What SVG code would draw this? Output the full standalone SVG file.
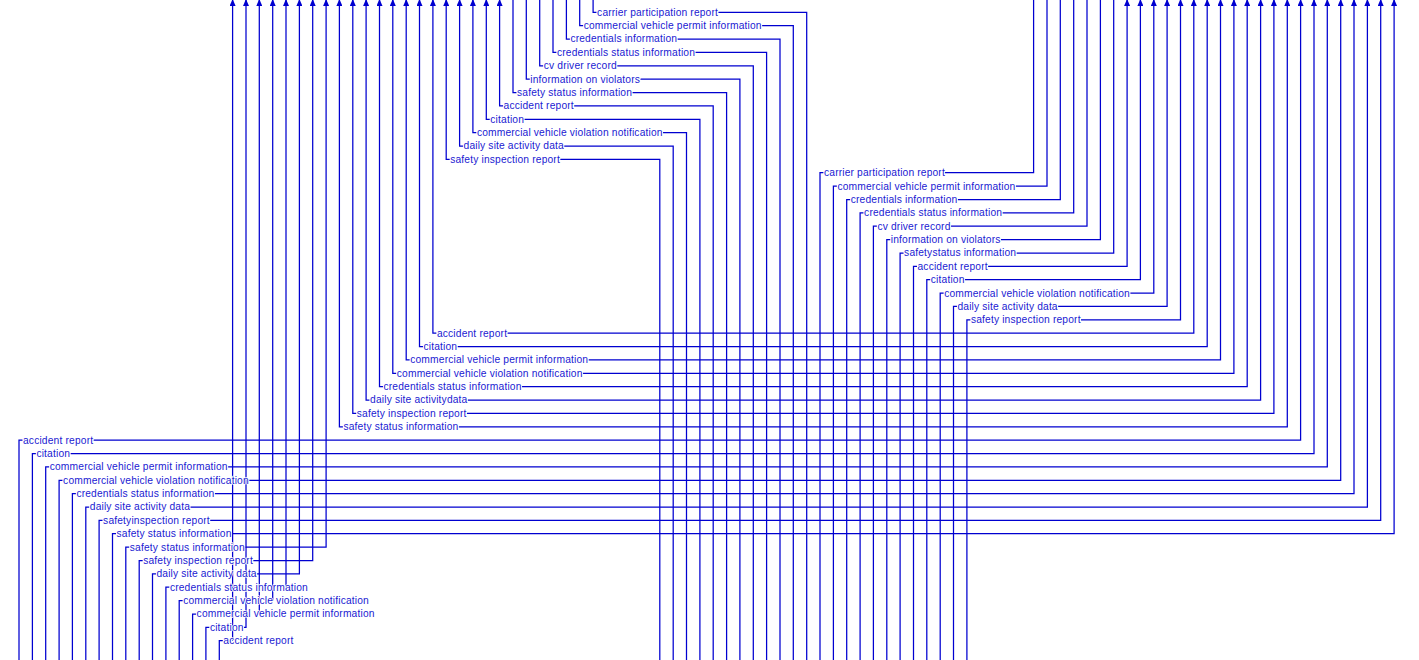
<svg xmlns="http://www.w3.org/2000/svg" width="1419" height="660" viewBox="0 0 1419 660">
<style>
.c{fill:none;stroke:#0000D0;stroke-width:1.25}
.a{marker-end:url(#arr)}
.b{marker-start:url(#arr);marker-end:url(#arr)}
text{font-family:"Liberation Sans",Arial,sans-serif;font-size:10.3px;fill:#1A1AD2;stroke:#fff;stroke-width:1.5px;paint-order:stroke;stroke-linejoin:round}
</style>
<defs>
<marker id="arr" viewBox="0 0 7 6" refX="7" refY="3" markerWidth="7" markerHeight="6" markerUnits="userSpaceOnUse" orient="auto-start-reverse"><path d="M0,0L7,3L0,6z" fill="#0000D0"/></marker>
</defs>
<rect width="1419" height="660" fill="#fff"/>
<g id="connectors">
<path id="a0" class="c" d="M806.7,661V12.3H718.4M596.6,12.3H593.1V-1"/>
<path id="a1" class="c" d="M793.3,661V25.7H762.1M583.2,25.7H579.7V-1"/>
<path id="a2" class="c" d="M780,661V39H677.5M569.9,39H566.4V-1"/>
<path id="a3" class="c" d="M766.6,661V52.4H695.4M556.5,52.4H553V-1"/>
<path id="a4" class="c" d="M753.3,661V65.8H617.2M543.2,65.8H539.7V-1"/>
<path id="a5" class="c" d="M739.9,661V79.2H640.4M529.8,79.2H526.3V-1"/>
<path id="a6" class="c" d="M726.6,661V92.5H632.4M516.5,92.5H513V-1"/>
<path id="a7" class="c a" d="M713.2,661V105.9H574.2M503.1,105.9H499.6V-1"/>
<path id="a8" class="c a" d="M699.9,661V119.3H524.4M489.8,119.3H486.3V-1"/>
<path id="a9" class="c a" d="M686.5,661V132.6H663M476.4,132.6H472.9V-1"/>
<path id="a10" class="c a" d="M673.2,661V146H564.2M463.1,146H459.6V-1"/>
<path id="a11" class="c a" d="M659.8,661V159.4H560.3M449.7,159.4H446.2V-1"/>

<path id="b0" class="c" d="M1033.6,-1V172.7H944.8M823.5,172.7H820V661"/>
<path id="b1" class="c" d="M1047,-1V186.1H1015.8M836.9,186.1H833.4V661"/>
<path id="b2" class="c" d="M1060.3,-1V199.5H957.8M850.2,199.5H846.7V661"/>
<path id="b3" class="c" d="M1073.7,-1V212.9H1002.5M863.6,212.9H860.1V661"/>
<path id="b4" class="c" d="M1087,-1V226.2H950.9M876.9,226.2H873.4V661"/>
<path id="b5" class="c" d="M1100.4,-1V239.6H1000.9M890.3,239.6H886.8V661"/>
<path id="b6" class="c" d="M1113.7,-1V253H1016.5M903.6,253H900.1V661"/>
<path id="b7" class="c a" d="M913.5,661V266.3H917M988.1,266.3H1127.1V-1"/>
<path id="b8" class="c a" d="M926.8,661V279.7H930.3M964.9,279.7H1140.4V-1"/>
<path id="b9" class="c a" d="M940.2,661V293.1H943.7M1130.3,293.1H1153.8V-1"/>
<path id="b10" class="c a" d="M953.5,661V306.4H957M1058.1,306.4H1167.1V-1"/>
<path id="b11" class="c a" d="M966.9,661V319.8H970.4M1081,319.8H1180.5V-1"/>

<path id="c0" class="c b" d="M432.9,-1V333.2H436.4M507.5,333.2H1193.8V-1"/>
<path id="c1" class="c b" d="M419.5,-1V346.6H423M457.6,346.6H1207.2V-1"/>
<path id="c2" class="c b" d="M406.2,-1V359.9H409.7M588.6,359.9H1220.5V-1"/>
<path id="c3" class="c b" d="M392.8,-1V373.3H396.3M582.9,373.3H1233.9V-1"/>
<path id="c4" class="c b" d="M379.5,-1V386.7H383M521.9,386.7H1247.2V-1"/>
<path id="c5" class="c b" d="M366.1,-1V400H369.6M467.8,400H1260.6V-1"/>
<path id="c6" class="c b" d="M352.8,-1V413.4H356.3M466.9,413.4H1273.9V-1"/>
<path id="c7" class="c b" d="M339.4,-1V426.8H342.9M458.8,426.8H1287.3V-1"/>

<path id="d0" class="c a" d="M19,661V440.1H22.5M93.6,440.1H1300.6V-1"/>
<path id="d1" class="c a" d="M32.4,661V453.5H35.9M70.5,453.5H1314V-1"/>
<path id="d2" class="c a" d="M45.7,661V466.9H49.2M228.1,466.9H1327.3V-1"/>
<path id="d3" class="c a" d="M59.1,661V480.3H62.6M249.2,480.3H1340.7V-1"/>
<path id="d4" class="c a" d="M72.4,661V493.6H75.9M214.8,493.6H1354V-1"/>
<path id="d5" class="c a" d="M85.8,661V507H89.3M190.4,507H1367.4V-1"/>
<path id="d6" class="c a" d="M99.1,661V520.4H102.6M210.2,520.4H1380.7V-1"/>
<path id="d7" class="c a" d="M112.5,661V533.7H116M231.9,533.7H1394.1V-1"/>

<path id="e0" class="c a" d="M125.8,661V547.1H129.3M245.2,547.1H326.1V-1"/>
<path id="e1" class="c a" d="M139.2,661V560.5H142.7M253.3,560.5H312.7V-1"/>
<path id="e2" class="c a" d="M152.5,661V573.8H156M257.1,573.8H299.4V-1"/>
<path id="e3" class="c a" d="M165.9,661V587.2H169.4M286,587.2V-1"/>
<path id="e4" class="c a" d="M179.2,661V600.6H182.7M272.7,600.6V-1"/>
<path id="e5" class="c a" d="M192.6,661V614H196.1M259.3,614V-1"/>
<path id="e6" class="c a" d="M205.9,661V627.3H209.4M244,627.3H246V-1"/>
<path id="e7" class="c a" d="M219.3,661V640.7H222.8M232.6,640.7V-1"/>
</g>
<g id="labels">
<text x="597.1" y="15.7" textLength="120.8" lengthAdjust="spacing">carrier participation report</text>
<text x="583.7" y="29.1" textLength="177.9" lengthAdjust="spacing">commercial vehicle permit information</text>
<text x="570.4" y="42.4" textLength="106.6" lengthAdjust="spacing">credentials information</text>
<text x="557" y="55.8" textLength="137.9" lengthAdjust="spacing">credentials status information</text>
<text x="543.7" y="69.2" textLength="73" lengthAdjust="spacing">cv driver record</text>
<text x="530.3" y="82.6" textLength="109.6" lengthAdjust="spacing">information on violators</text>
<text x="517" y="95.9" textLength="114.9" lengthAdjust="spacing">safety status information</text>
<text x="503.6" y="109.3" textLength="70.1" lengthAdjust="spacing">accident report</text>
<text x="490.3" y="122.7" textLength="33.6" lengthAdjust="spacing">citation</text>
<text x="476.9" y="136" textLength="185.6" lengthAdjust="spacing">commercial vehicle violation notification</text>
<text x="463.6" y="149.4" textLength="100.1" lengthAdjust="spacing">daily site activity data</text>
<text x="450.2" y="162.8" textLength="109.6" lengthAdjust="spacing">safety inspection report</text>

<text x="824" y="176.1" textLength="120.8" lengthAdjust="spacing">carrier participation report</text>
<text x="837.4" y="189.5" textLength="177.9" lengthAdjust="spacing">commercial vehicle permit information</text>
<text x="850.7" y="202.9" textLength="106.6" lengthAdjust="spacing">credentials information</text>
<text x="864.1" y="216.3" textLength="137.9" lengthAdjust="spacing">credentials status information</text>
<text x="877.4" y="229.6" textLength="73" lengthAdjust="spacing">cv driver record</text>
<text x="890.8" y="243" textLength="109.6" lengthAdjust="spacing">information on violators</text>
<text x="904.1" y="256.4" textLength="111.9" lengthAdjust="spacing">safetystatus information</text>
<text x="917.5" y="269.7" textLength="70.1" lengthAdjust="spacing">accident report</text>
<text x="930.8" y="283.1" textLength="33.6" lengthAdjust="spacing">citation</text>
<text x="944.2" y="296.5" textLength="185.6" lengthAdjust="spacing">commercial vehicle violation notification</text>
<text x="957.5" y="309.8" textLength="100.1" lengthAdjust="spacing">daily site activity data</text>
<text x="970.9" y="323.2" textLength="109.6" lengthAdjust="spacing">safety inspection report</text>

<text x="436.9" y="336.6" textLength="70.1" lengthAdjust="spacing">accident report</text>
<text x="423.5" y="350" textLength="33.6" lengthAdjust="spacing">citation</text>
<text x="410.2" y="363.3" textLength="177.9" lengthAdjust="spacing">commercial vehicle permit information</text>
<text x="396.8" y="376.7" textLength="185.6" lengthAdjust="spacing">commercial vehicle violation notification</text>
<text x="383.5" y="390.1" textLength="137.9" lengthAdjust="spacing">credentials status information</text>
<text x="370.1" y="403.4" textLength="97.2" lengthAdjust="spacing">daily site activitydata</text>
<text x="356.8" y="416.8" textLength="109.6" lengthAdjust="spacing">safety inspection report</text>
<text x="343.4" y="430.2" textLength="114.9" lengthAdjust="spacing">safety status information</text>

<text x="23" y="443.5" textLength="70.1" lengthAdjust="spacing">accident report</text>
<text x="36.4" y="456.9" textLength="33.6" lengthAdjust="spacing">citation</text>
<text x="49.7" y="470.3" textLength="177.9" lengthAdjust="spacing">commercial vehicle permit information</text>
<text x="63.1" y="483.7" textLength="185.6" lengthAdjust="spacing">commercial vehicle violation notification</text>
<text x="76.4" y="497" textLength="137.9" lengthAdjust="spacing">credentials status information</text>
<text x="89.8" y="510.4" textLength="100.1" lengthAdjust="spacing">daily site activity data</text>
<text x="103.1" y="523.8" textLength="106.6" lengthAdjust="spacing">safetyinspection report</text>
<text x="116.5" y="537.1" textLength="114.9" lengthAdjust="spacing">safety status information</text>

<text x="129.8" y="550.5" textLength="114.9" lengthAdjust="spacing">safety status information</text>
<text x="143.2" y="563.9" textLength="109.6" lengthAdjust="spacing">safety inspection report</text>
<text x="156.5" y="577.2" textLength="100.1" lengthAdjust="spacing">daily site activity data</text>
<text x="169.9" y="590.6" textLength="137.9" lengthAdjust="spacing">credentials status information</text>
<text x="183.2" y="604" textLength="185.6" lengthAdjust="spacing">commercial vehicle violation notification</text>
<text x="196.6" y="617.4" textLength="177.9" lengthAdjust="spacing">commercial vehicle permit information</text>
<text x="209.9" y="630.7" textLength="33.6" lengthAdjust="spacing">citation</text>
<text x="223.3" y="644.1" textLength="70.1" lengthAdjust="spacing">accident report</text>
</g>
</svg>
